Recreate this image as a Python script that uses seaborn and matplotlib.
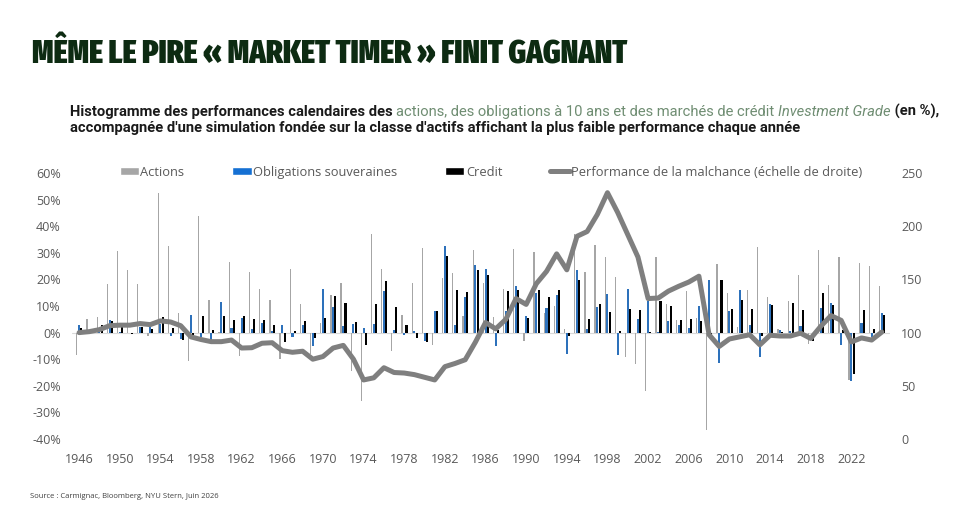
import matplotlib
matplotlib.use("Agg")
import matplotlib.pyplot as plt
from matplotlib import font_manager
from matplotlib.font_manager import FontProperties
from matplotlib.patches import Patch
from matplotlib.lines import Line2D
import numpy as np
import pandas as pd
import seaborn as sns

# annual performances (%), 1946 -> 2025
years = list(range(1946, 2026))

actions = [-8.4, 5.2, 5.7, 18.3, 30.8, 23.7, 18.2, -1.2, 52.6, 32.6,
           7.4, -10.5, 43.7, 12.1, 0.3, 26.6, -8.8, 22.6, 16.4, 12.4,
           -10.0, 23.8, 10.8, -8.2, 3.6, 14.2, 18.8, -14.3, -25.9, 37.0,
           23.8, -7.0, 6.5, 18.5, 31.7, -4.7, 20.4, 22.3, 6.2, 31.2,
           18.5, 5.8, 16.5, 31.5, -3.1, 30.2, 7.5, 10.0, 1.3, 37.2,
           22.7, 33.1, 28.3, 20.9, -9.0, -11.9, -22.0, 28.4, 10.7, 4.8,
           15.6, 5.5, -36.6, 25.9, 14.8, 2.1, 15.9, 32.2, 13.5, 1.4,
           11.8, 21.6, -4.2, 31.2, 18.0, 28.5, -18.0, 26.1, 24.9, 17.5]

obligations = [3.0, 0.9, 1.8, 4.6, 0.4, -0.3, 2.2, 2.4, 3.1, -1.4,
               -2.3, 6.8, -1.8, -2.6, 11.5, 1.9, 5.6, 1.5, 3.5, 0.6,
               2.7, -1.7, 2.9, -5.0, 16.5, 9.5, 2.3, 3.4, 1.7, 3.3,
               15.8, 0.9, -0.9, 0.5, -3.0, 8.0, 32.6, 3.0, 13.5, 25.6,
               24.1, -5.1, 8.0, 17.7, 6.1, 14.9, 9.3, 14.0, -8.2, 23.4,
               1.2, 9.8, 14.7, -8.5, 16.5, 5.2, 12.0, 0.4, 4.2, 2.7,
               1.9, 10.1, 19.8, -11.3, 8.2, 15.9, 2.8, -9.2, 10.6, 1.1,
               0.5, 2.5, -0.2, 9.4, 11.2, -4.5, -18.2, 3.6, -1.5, 7.4]

credit = [1.6, 0.2, 3.0, 4.2, 3.7, -0.5, 2.0, 1.4, 5.8, 1.8,
          -2.8, -0.8, 6.1, 1.1, 6.4, 4.9, 6.4, 5.1, 4.8, 3.0,
          -3.6, 0.5, 4.5, -2.1, 5.4, 13.7, 11.2, 3.8, -4.6, 10.9,
          19.4, 9.6, 2.9, -2.1, -3.5, 8.1, 28.7, 16.2, 15.4, 23.7,
          21.8, 1.0, 15.5, 16.2, 5.5, 16.2, 13.4, 16.2, -1.4, 19.9,
          5.1, 10.9, 7.9, 0.5, 8.9, 8.4, 0.3, 12.0, 9.9, 4.9,
          5.1, 4.5, -1.0, 19.7, 9.0, 12.2, 9.0, -1.4, 10.5, 0.4,
          11.2, 8.6, -3.3, 14.9, 10.2, 0.8, -15.4, 8.4, 1.4, 6.5]

# "performance de la malchance" (right axis)
malchance = [100, 100.9, 102.8, 106.5, 107, 107, 108.5, 107.5, 111, 110,
             106.5, 96, 93.5, 91.5, 91.5, 93, 85.5, 85.8, 90, 90.5,
             83, 81.5, 82.5, 75, 77.5, 85.5, 88, 75, 55.5, 57.5,
             67, 62.5, 62, 60.5, 58, 55.5, 68, 71, 74.5, 91,
             109.5, 103.5, 112.5, 132, 126.5, 146, 157.5, 174, 159, 190.5,
             195, 211, 231.5, 213, 192, 171, 132, 132.5, 139, 143.5,
             147.5, 153, 98, 87, 94, 96, 98, 88.5, 97.5, 96.8,
             96.8, 99.5, 94.5, 106, 116, 111.5, 91.2, 95, 93, 100.5]

series_names = ["Actions", "Obligations souveraines", "Credit"]
line_name = "Performance de la malchance (échelle de droite)"
title = "MÊME LE PIRE « MARKET TIMER » FINIT GAGNANT"
left_ticks = [-40, -30, -20, -10, 0, 10, 20, 30, 40, 50, 60]
right_ticks = [0, 50, 100, 150, 200, 250]
year_ticks = list(range(1946, 2023, 4))

c_gray = "#a6a6a6"
c_blue = "#1570d3"
c_black = "#000000"
c_line = "#7f7f7f"
c_text = "#595959"
c_title = "#0d2b12"
c_green = "#6f8d72"

sns.set_theme(style="white")
plt.rcParams["font.family"] = ["Open Sans", "DejaVu Sans"]


def pick_title_font():
    # narrowest heavy face available, Roboto bold otherwise
    best, best_score = None, 0
    for f in font_manager.fontManager.ttflist:
        n = f.fname.lower()
        if "italic" in n or "oblique" in n:
            continue
        score = 0
        if "extracondensed" in n:
            score += 6
        elif "semicondensed" in n:
            score += 2
        elif "condensed" in n:
            score += 4
        else:
            continue
        if "black" in n:
            score += 3
        elif "extrabold" in n:
            score += 2
        elif "bold" in n and "semibold" not in n:
            score += 1
        else:
            continue
        if score > best_score:
            best, best_score = f.fname, score
    if best:
        return FontProperties(fname=best)
    return FontProperties(family="Roboto", weight="bold")


df = pd.DataFrame({
    "year": years * 3,
    "serie": [s for s in series_names for _ in years],
    "value": actions + obligations + credit,
})

fig = plt.figure(figsize=(9.56, 5.05), dpi=100)
ax = fig.add_axes([0.0753, 0.1307, 0.8556, 0.5267])

sns.barplot(data=df, x="year", y="value", hue="serie", hue_order=series_names,
            palette=[c_gray, c_blue, c_black], native_scale=True, orient="x",
            width=0.66, gap=0.08, errorbar=None, linewidth=0, legend=False, ax=ax)

# grey bars are thinner in the original
for p in ax.patches:
    if np.allclose(p.get_facecolor()[:3], matplotlib.colors.to_rgb(c_gray)):
        w = p.get_width()
        p.set_x(p.get_x() + w * 0.2)
        p.set_width(w * 0.6)

ax.axhline(0, color="#d9d9d9", linewidth=0.8, zorder=0)
ax.set_xlim(1945.3, 2025.8)
ax.set_ylim(-40, 60)
ax.set_yticks(left_ticks)
ax.set_yticklabels([f"{t}%" for t in left_ticks])
ax.set_xticks(year_ticks)
ax.set_xticklabels([str(y) for y in year_ticks])
ax.set_xlabel("")
ax.set_ylabel("")
ax.tick_params(axis="both", length=0, labelsize=9, colors=c_text)
ax.tick_params(axis="y", pad=8)
ax.tick_params(axis="x", pad=10)
for s in ax.spines.values():
    s.set_visible(False)

ax2 = ax.twinx()
sns.lineplot(x=years, y=malchance, ax=ax2, color=c_line, linewidth=3.6)
ax2.set_ylim(0, 250)
ax2.set_yticks(right_ticks)
ax2.set_yticklabels([str(t) for t in right_ticks])
ax2.set_ylabel("")
ax2.tick_params(axis="y", length=0, labelsize=9, colors=c_text, pad=8)
for s in ax2.spines.values():
    s.set_visible(False)

handles = [Patch(facecolor=c_gray), Patch(facecolor=c_blue), Patch(facecolor=c_black),
           Line2D([], [], color=c_line, linewidth=3.6)]
leg = fig.legend(handles, series_names + [line_name], ncol=4, loc="center",
                 bbox_to_anchor=(0.5136, 0.6594), frameon=False, fontsize=9.3,
                 handlelength=1.5, handleheight=0.55, handletextpad=0.12,
                 columnspacing=3.7)
for t in leg.get_texts():
    t.set_color(c_text)

# title, sized so that it spans the same width as in the original
tfont = pick_title_font()
tfont.set_size(20)
ttl = fig.text(0.033, 0.875, title, fontproperties=tfont, color=c_title,
               va="baseline", ha="left")
renderer = fig.canvas.get_renderer()
w = ttl.get_window_extent(renderer).width
ttl.set_fontsize(20 * 596 / w)

# subtitle, mixed styles
sub_font = ["Roboto", "DejaVu Sans"]
sub_size = 10.6
t1 = fig.text(0.073, 0.765, "Histogramme des performances calendaires des ",
              family=sub_font, weight="bold", fontsize=sub_size, color="#1a1a1a",
              va="bottom", ha="left")
t2 = ax.annotate("actions, des obligations à 10 ans et des marchés de crédit ",
                 xy=(1, 0), xycoords=t1, family=sub_font, fontsize=sub_size,
                 color=c_green, va="bottom", ha="left", annotation_clip=False)
t3 = ax.annotate("Investment Grade", xy=(1, 0), xycoords=t2, family=sub_font,
                 style="italic", fontsize=sub_size, color=c_green, va="bottom",
                 ha="left", annotation_clip=False)
ax.annotate(" (en %),", xy=(1, 0), xycoords=t3, family=sub_font, weight="bold",
            fontsize=sub_size, color="#1a1a1a", va="bottom", ha="left",
            annotation_clip=False)
fig.text(0.073, 0.732,
         "accompagnée d'une simulation fondée sur la classe d'actifs affichant la plus faible performance chaque année",
         family=sub_font, weight="bold", fontsize=sub_size, color="#1a1a1a",
         va="bottom", ha="left")

fig.text(0.031, 0.016, "Source : Carmignac, Bloomberg, NYU Stern, Juin 2026",
         fontsize=5.5, color="#404040", va="center", ha="left")

fig.savefig("out.png", dpi=100)
